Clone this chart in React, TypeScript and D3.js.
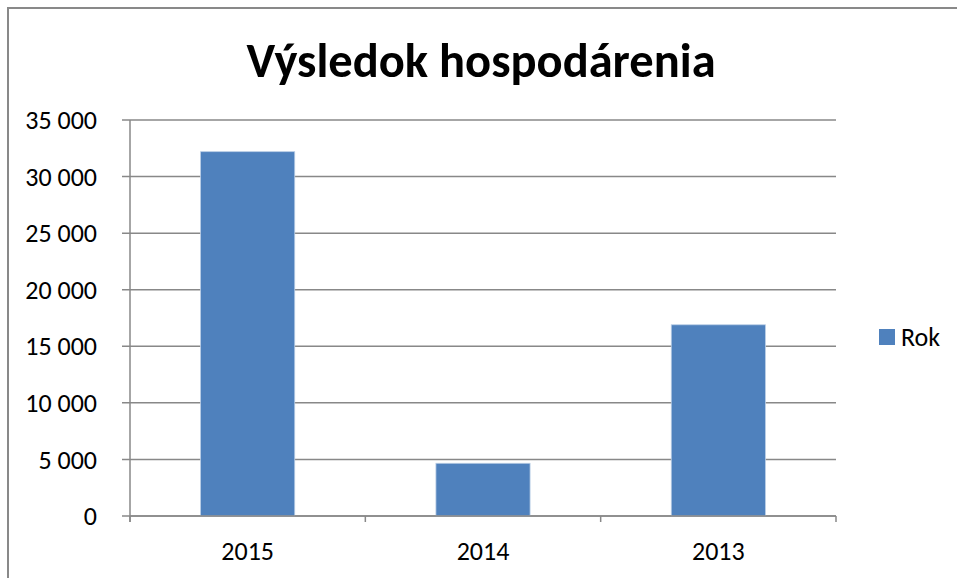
import { useEffect, useRef } from "react";
import * as d3 from "d3";

// data
const years = ["2015", "2014", "2013"];
const values = [32200, 4660, 16900];
const yTicks = [0, 5000, 10000, 15000, 20000, 25000, 30000, 35000];
const seriesName = "Rok";
const title = "Výsledok hospodárenia";

const W = 957;
const H = 578;
const FONT = "Carlito, Calibri, 'Open Sans', sans-serif";
const LABEL = 26;

export default function App() {
  const ref = useRef<SVGSVGElement>(null);

  useEffect(() => {
    const svg = d3.select(ref.current);
    svg.selectAll("*").remove();

    var margin = { top: 120, right: 121, bottom: 62, left: 130 };
    var width = W - margin.left - margin.right;
    var height = H - margin.top - margin.bottom;

    // outer chart frame (runs off the right and bottom edges)
    svg.append("rect")
      .attr("x", 8)
      .attr("y", 8)
      .attr("width", W + 20)
      .attr("height", H + 20)
      .attr("fill", "white")
      .attr("stroke", "#898989")
      .attr("stroke-width", 2);

    svg.append("text")
      .attr("x", 481)
      .attr("y", 77)
      .attr("text-anchor", "middle")
      .attr("font-family", FONT)
      .attr("font-weight", "bold")
      .attr("font-size", 48.5)
      .attr("fill", "#000")
      .text(title);

    const g = svg.append("g")
      .attr("transform", `translate(${margin.left}, ${margin.top})`);

    const x = d3.scaleBand()
      .domain(years)
      .range([0, width])
      .paddingInner(0.6)
      .paddingOuter(0.3);

    const y = d3.scaleLinear()
      .domain([0, 35000])
      .range([height, 0]);

    const fmt = (v: number) => d3.format(",")(v).replace(/,/g, " ");

    // gridlines + y ticks
    g.selectAll(".grid")
      .data(yTicks)
      .enter()
      .append("line")
      .attr("x1", -8)
      .attr("x2", width)
      .attr("y1", (d) => y(d))
      .attr("y2", (d) => y(d))
      .attr("stroke", "#888888")
      .attr("stroke-width", 1.5);

    g.selectAll(".ylab")
      .data(yTicks)
      .enter()
      .append("text")
      .attr("x", -33)
      .attr("y", (d) => y(d))
      .attr("dy", "0.35em")
      .attr("text-anchor", "end")
      .attr("font-family", FONT)
      .attr("font-size", LABEL)
      .attr("fill", "#000")
      .text((d) => fmt(d));

    // bars
    g.selectAll(".bar")
      .data(values)
      .enter()
      .append("rect")
      .attr("x", (d, i) => x(years[i]) as number)
      .attr("y", (d) => y(d))
      .attr("width", x.bandwidth())
      .attr("height", (d) => height - y(d))
      .attr("fill", "#4F81BD")
      .attr("stroke", "#B9CDE5")
      .attr("stroke-width", 0.8);

    // y axis line
    g.append("line")
      .attr("x1", 0).attr("x2", 0)
      .attr("y1", 0).attr("y2", height + 6)
      .attr("stroke", "#888888")
      .attr("stroke-width", 1.5);

    // x axis line + ticks at band edges
    g.append("line")
      .attr("x1", 0).attr("x2", width)
      .attr("y1", height).attr("y2", height)
      .attr("stroke", "#888888")
      .attr("stroke-width", 1.5);

    const edges = years.map((d, i) => i * x.step()).concat([width]);
    g.selectAll(".xtick")
      .data(edges)
      .enter()
      .append("line")
      .attr("x1", (d) => d).attr("x2", (d) => d)
      .attr("y1", height).attr("y2", height + 6)
      .attr("stroke", "#888888")
      .attr("stroke-width", 1.5);

    g.selectAll(".xlab")
      .data(years)
      .enter()
      .append("text")
      .attr("x", (d) => (x(d) as number) + x.bandwidth() / 2)
      .attr("y", height + 35)
      .attr("dy", "0.35em")
      .attr("text-anchor", "middle")
      .attr("font-family", FONT)
      .attr("font-size", LABEL)
      .attr("fill", "#000")
      .text((d) => d);

    // legend
    svg.append("rect")
      .attr("x", 879)
      .attr("y", 329)
      .attr("width", 16)
      .attr("height", 16)
      .attr("fill", "#4F81BD");
    svg.append("text")
      .attr("x", 901)
      .attr("y", 337)
      .attr("dy", "0.35em")
      .attr("font-family", FONT)
      .attr("font-size", LABEL)
      .attr("fill", "#000")
      .text(seriesName);
  }, []);

  return (
    <svg
      ref={ref}
      width={W}
      height={H}
      style={{ position: "absolute", left: 0, top: 0, background: "white" }}
    />
  );
}
